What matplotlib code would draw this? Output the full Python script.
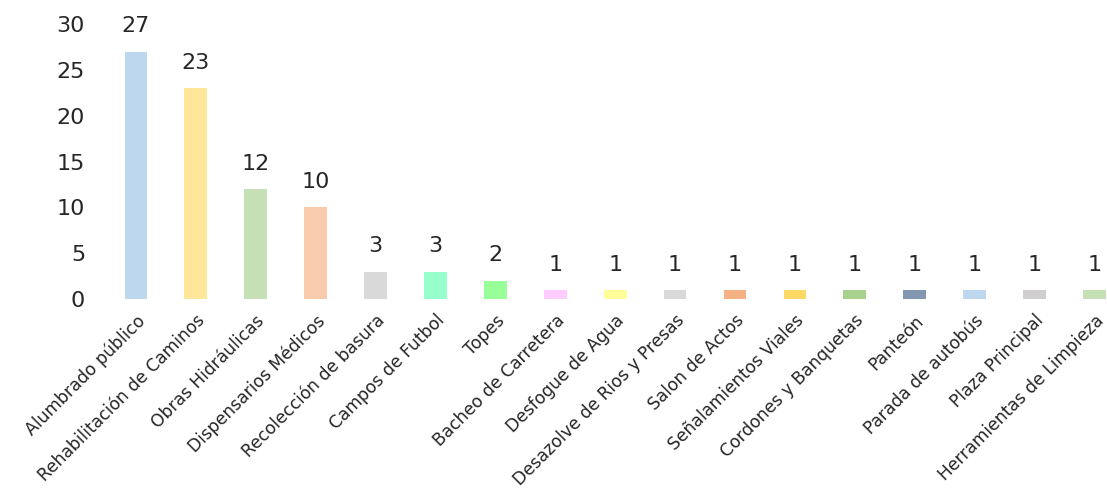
import matplotlib
matplotlib.use("Agg")
import matplotlib.pyplot as plt

categories = ["Alumbrado público", "Rehabilitación de Caminos", "Obras Hidráulicas",
              "Dispensarios Médicos", "Recolección de basura", "Campos de Futbol", "Topes",
              "Bacheo de Carretera", "Desfogue de Agua", "Desazolve de Rios y Presas",
              "Salon de Actos", "Señalamientos Viales", "Cordones y Banquetas", "Panteón",
              "Parada de autobús", "Plaza Principal", "Herramientas de Limpieza"]
values = [27, 23, 12, 10, 3, 3, 2, 1, 1, 1, 1, 1, 1, 1, 1, 1, 1]
colors = ["#BDD7EE", "#FFE699", "#C5E0B4", "#F8CBAD", "#D9D9D9", "#96FFCC", "#99FF99",
          "#FFCCFF", "#FFFF99", "#D9D9D9", "#F4B183", "#FFD966", "#A9D18E", "#8497B0",
          "#BDD7EE", "#D0CECE", "#C5E0B4"]
yticks = [0, 5, 10, 15, 20, 25, 30]

plt.rcParams['font.family'] = ['DejaVu Sans']
fig = plt.figure(figsize=(11.07, 4.93), dpi=100)
ax = fig.add_axes([0.0957, 0.3935, 0.92, 0.5578])
x = list(range(len(categories)))
bars = ax.bar(x, values, width=0.38, color=colors)
for xi, v in zip(x, values):
    ax.annotate(str(v), (xi, v), xytext=(0, 11), textcoords='offset points',
                ha='center', va='bottom', fontsize=16, color='#262626')
ax.set_xlim(-0.5, 16.5)
ax.set_ylim(0, 30)
ax.set_yticks(yticks)
ax.set_yticklabels([str(t) for t in yticks], fontsize=16, color='#262626')
ax.set_xticks(x)
ax.set_xticklabels(categories, rotation=45, ha='right', rotation_mode='anchor',
                   fontsize=12.3, color='#262626')
ax.tick_params(axis='both', length=0)
ax.tick_params(axis='y', pad=15)
ax.tick_params(axis='x', pad=9)
for s in ax.spines.values():
    s.set_visible(False)
fig.savefig("out.png", dpi=100)
